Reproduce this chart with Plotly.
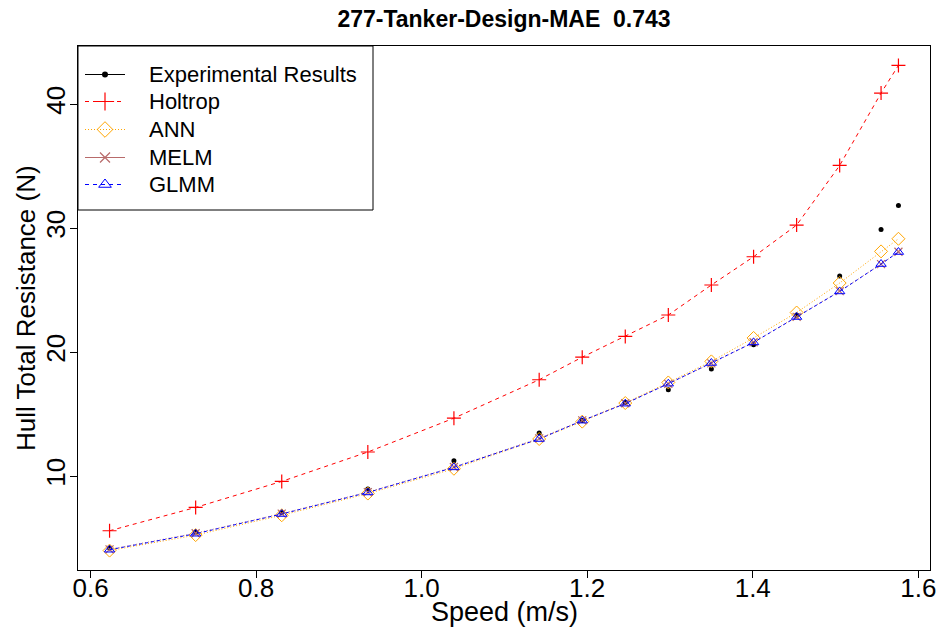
import plotly.graph_objects as go

# Speed (m/s) of each towing-tank run
speed = [0.623, 0.727, 0.831, 0.935, 1.039, 1.142, 1.194, 1.246,
         1.298, 1.350, 1.401, 1.453, 1.505, 1.555, 1.576]

# Hull total resistance (N) per method
experimental = [4.2, 5.5, 7.05, 8.97, 11.25, 13.48, 14.5, 15.95,
                16.98, 18.65, 20.6, 23.0, 26.15, 29.9, 31.84]
holtrop = [5.60, 7.48, 9.58, 11.95, 14.68, 17.78, 19.6, 21.27,
           23.0, 25.42, 27.70, 30.25, 35.06, 40.90, 43.13]
ann = [4.0, 5.25, 6.85, 8.6, 10.6, 13.0, 14.4, 15.9,
       17.56, 19.26, 21.15, 23.2, 25.58, 28.13, 29.15]
melm = [4.1, 5.4, 6.98, 8.72, 10.74, 13.05, 14.5, 15.88,
        17.45, 19.1, 20.8, 22.85, 24.92, 27.1, 28.1]
glmm = [4.07, 5.36, 6.95, 8.69, 10.71, 13.0, 14.48, 15.85,
        17.46, 19.13, 20.79, 22.84, 24.9, 27.11, 28.08]

x_ticks = [0.6, 0.8, 1.0, 1.2, 1.4, 1.6]
y_ticks = [10, 20, 30, 40]

legend_names = ["Experimental Results", "Holtrop", "ANN", "MELM", "GLMM"]

FONT = "Liberation Sans, Arial, sans-serif"

# plot-area size in px (used to place the boxed legend)
L, R, T, B = 78, 10, 46, 63
W, H = 940, 633
PW, PH = W - L - R, H - T - B


def padded(vals, frac=0.04):
    lo, hi = min(vals), max(vals)
    d = (hi - lo) * frac
    return [lo - d, hi + d]


all_y = experimental + holtrop + ann + melm + glmm

MELM_COL = "#b86b6b"

# line / marker style of each series
styles = {
    "Experimental Results": dict(
        line=dict(color="black", width=1),
        marker=dict(symbol="circle", size=5, color="black")),
    "Holtrop": dict(
        line=dict(color="red", width=1, dash="4px,4px"),
        marker=dict(symbol="cross-thin", size=10, color="red",
                    line=dict(color="red", width=1.2))),
    "ANN": dict(
        line=dict(color="orange", width=1, dash="1px,2px"),
        marker=dict(symbol="diamond-open", size=10, color="orange",
                    line=dict(color="orange", width=1))),
    "MELM": dict(
        line=dict(color=MELM_COL, width=1, dash="1px,2px"),
        marker=dict(symbol="x-thin", size=8, color=MELM_COL,
                    line=dict(color=MELM_COL, width=1.2))),
    "GLMM": dict(
        line=dict(color="blue", width=1, dash="3px,3px"),
        marker=dict(symbol="triangle-up-open", size=9, color="blue",
                    line=dict(color="blue", width=1))),
}

# legend keys: same symbols, a touch larger; MELM key uses a solid line
legend_styles = {
    "Experimental Results": dict(
        line=dict(color="black", width=1),
        marker=dict(symbol="circle", size=6, color="black")),
    "Holtrop": dict(
        line=dict(color="red", width=1, dash="4px,4px"),
        marker=dict(symbol="cross-thin", size=13, color="red",
                    line=dict(color="red", width=1.2))),
    "ANN": dict(
        line=dict(color="orange", width=1, dash="1px,2px"),
        marker=dict(symbol="diamond-open", size=12, color="orange",
                    line=dict(color="orange", width=1))),
    "MELM": dict(
        line=dict(color=MELM_COL, width=1.2),
        marker=dict(symbol="x-thin", size=10, color=MELM_COL,
                    line=dict(color=MELM_COL, width=1.2))),
    "GLMM": dict(
        line=dict(color="blue", width=1, dash="4px,4px"),
        marker=dict(symbol="triangle-up-open", size=11, color="blue",
                    line=dict(color="blue", width=1))),
}

fig = go.Figure()

# Experimental points are drawn as dots only
fig.add_trace(go.Scatter(x=speed, y=experimental, mode="markers",
                         showlegend=False,
                         marker=styles["Experimental Results"]["marker"]))
for name, vals in [("Holtrop", holtrop), ("ANN", ann),
                   ("MELM", melm), ("GLMM", glmm)]:
    fig.add_trace(go.Scatter(x=speed, y=vals, mode="lines+markers",
                             showlegend=False, **styles[name]))

# Boxed legend in the top-left corner of the plot area
box_w, box_h = 295, 164
row_px = [28, 55, 83, 111, 138]
seg_x0, seg_x1, text_x = 7, 47, 69
shapes = [dict(type="rect", xref="paper", yref="paper",
               x0=0, x1=box_w / PW, y0=1 - box_h / PH, y1=1,
               line=dict(color="black", width=1), fillcolor="white",
               layer="below")]
annotations = []
for name, rp in zip(legend_names, row_px):
    yf = 1 - (rp + 0.5) / PH
    x0f, x1f = seg_x0 / PW, seg_x1 / PW
    st = legend_styles[name]
    fig.add_trace(go.Scatter(x=[x0f, x1f], y=[yf, yf], mode="lines",
                             xaxis="x2", yaxis="y2", showlegend=False,
                             hoverinfo="skip", line=st["line"]))
    fig.add_trace(go.Scatter(x=[(x0f + x1f) / 2], y=[yf], mode="markers",
                             xaxis="x2", yaxis="y2", showlegend=False,
                             hoverinfo="skip", marker=st["marker"]))
    annotations.append(dict(text=name, xref="paper", yref="paper",
                            x=text_x / PW, y=yf, xanchor="left",
                            yanchor="middle", showarrow=False,
                            font=dict(family=FONT, size=22, color="black")))

# Axis titles
annotations.append(dict(text="Speed (m/s)", xref="paper", yref="paper",
                        x=0.5, y=0, yshift=-42, xanchor="center",
                        yanchor="middle", showarrow=False,
                        font=dict(family=FONT, size=27, color="black")))
annotations.append(dict(text="Hull Total Resistance (N)", xref="paper",
                        yref="paper", x=0, xshift=-52, y=0.5,
                        xanchor="center", yanchor="middle", textangle=-90,
                        showarrow=False,
                        font=dict(family=FONT, size=26, color="black")))

axis_common = dict(
    showline=True, mirror=True, linecolor="black", linewidth=1,
    ticks="outside", ticklen=7, tickcolor="black", tickwidth=1,
    showgrid=False, zeroline=False, automargin=False,
    tickfont=dict(family=FONT, size=26, color="black"),
)

fig.update_layout(
    width=W, height=H,
    margin=dict(l=L, r=R, t=T, b=B),
    paper_bgcolor="white", plot_bgcolor="white",
    title=dict(text="<b>277-Tanker-Design-MAE \u00a00.743</b>",
               x=(L + W - R) / 2 / W, xanchor="center",
               y=1 - 19 / H, yanchor="middle",
               font=dict(family=FONT, size=23, color="black")),
    xaxis=dict(axis_common, range=padded(speed), tickvals=x_ticks,
               ticktext=[f"{v:.1f}" for v in x_ticks],
               ticklabelstandoff=-12),
    yaxis=dict(axis_common, range=padded(all_y), tickvals=y_ticks,
               tickangle=-90, ticklabelstandoff=-5),
    xaxis2=dict(overlaying="x", range=[0, 1], visible=False, anchor="y2"),
    yaxis2=dict(overlaying="y", range=[0, 1], visible=False, anchor="x2"),
    shapes=shapes,
    annotations=annotations,
    showlegend=False,
)

fig.write_html("out.html")
